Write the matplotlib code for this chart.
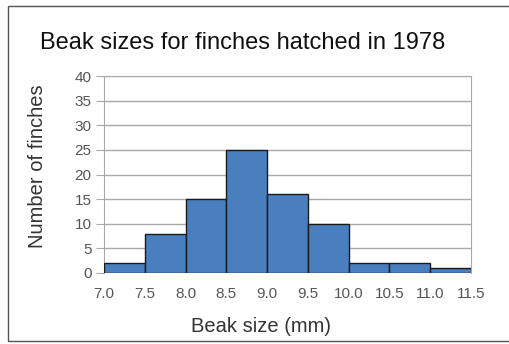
import numpy as np
import matplotlib.pyplot as plt
from matplotlib.patches import Rectangle

plt.rcParams['font.family'] = ['Liberation Sans', 'DejaVu Sans']

# bin edges (mm) and number of finches in each bin
bin_edges = [7.0, 7.5, 8.0, 8.5, 9.0, 9.5, 10.0, 10.5, 11.0, 11.5]
counts = [2, 8, 15, 25, 16, 10, 2, 2, 1]
x_ticks = ['7.0', '7.5', '8.0', '8.5', '9.0', '9.5', '10.0', '10.5', '11.0', '11.5']
y_ticks = [0, 5, 10, 15, 20, 25, 30, 35, 40]

fig = plt.figure(figsize=(5.09, 3.44), dpi=100)
ax = fig.add_axes([0.2043, 0.2064, 0.7210, 0.5726])

# outer frame around the whole figure
fig.patches.append(Rectangle((8 / 509, 3 / 344), 1.2, 335 / 344, transform=fig.transFigure,
                             fill=False, edgecolor='#555555', linewidth=1.0))

left = np.array(bin_edges[:-1])
widths = np.diff(bin_edges)
ax.bar(left, counts, width=widths, align='edge', color='#4a7fbf',
       edgecolor='#1a1a1a', linewidth=1.0, zorder=3)

ax.set_xlim(bin_edges[0], bin_edges[-1])
ax.set_ylim(0, 40)
ax.set_xticks(bin_edges)
ax.set_xticklabels(x_ticks)
ax.set_yticks(y_ticks)
ax.yaxis.grid(True, color='#a8a8a8', linewidth=1.0, zorder=0)

for side in ['left', 'right', 'top']:
    ax.spines[side].set_color('#a8a8a8')
ax.spines['bottom'].set_visible(False)

ax.tick_params(axis='y', length=6, color='#a8a8a8', labelsize=11,
               labelcolor='#555555', pad=3)
ax.tick_params(axis='x', length=0, labelsize=11, labelcolor='#555555', pad=10)

ax.set_ylabel('Number of finches', fontsize=14.5, color='#333333')
ax.yaxis.set_label_coords(-0.155, 0.543)
ax.set_xlabel('Beak size (mm)', fontsize=14.5, color='#333333')
ax.xaxis.set_label_coords(0.428, -0.225)
fig.text(0.0786, 0.875, 'Beak sizes for finches hatched in 1978', fontsize=17,
         color='#111111', va='center', ha='left')

fig.savefig('out.png', dpi=100)
